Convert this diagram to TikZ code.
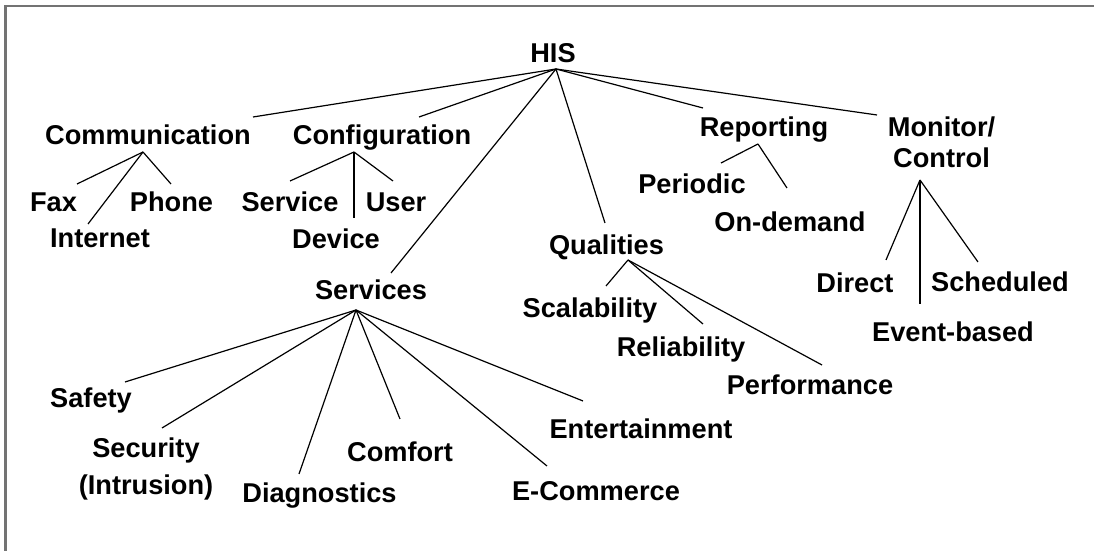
\documentclass[tikz,border=0pt]{standalone}
\usepackage{fontspec}
\setmainfont{Liberation Sans}
\begin{document}
\begin{tikzpicture}[x=0.5bp,y=-0.5bp,
  lbl/.style={anchor=base,inner sep=0pt,font=\bfseries\fontsize{13.6bp}{15.5bp}\selectfont,align=center},
  edge/.style={line width=0.6bp,black},
  frame/.style={line width=1bp,black!55}]
\useasboundingbox (0,0) rectangle (1094,551);
\draw[frame] (5.5,551) -- (5.5,6.5) -- (1094,6.5);
% nodes
\node[lbl] (HIS) at (553,63) {HIS};
\node[lbl] (Com) at (148,145) {Communication};
\node[lbl] (Conf) at (382,145) {Configuration};
\node[lbl] (Rep) at (764,137) {Reporting};
\node[lbl] (Mon) at (941.5,168) {Monitor/\\Control};
\node[lbl] (Fax) at (53.5,212) {Fax};
\node[lbl] (Phone) at (171.5,212) {Phone};
\node[lbl] (Int) at (100,248) {Internet};
\node[lbl] (Serv) at (290,212) {Service};
\node[lbl] (User) at (396,212) {User};
\node[lbl] (Dev) at (336,249) {Device};
\node[lbl] (Per) at (692,194) {Periodic};
\node[lbl] (OnD) at (790,232) {On-demand};
\node[lbl] (Qual) at (606.5,255) {Qualities};
\node[lbl] (Svcs) at (371,300) {Services};
\node[lbl] (Dir) at (855,293) {Direct};
\node[lbl] (Sch) at (1000,292) {Scheduled};
\node[lbl] (Evt) at (953,342) {Event-based};
\node[lbl] (Scal) at (590,318) {Scalability};
\node[lbl] (Rel) at (681,357) {Reliability};
\node[lbl] (Perf) at (810,395) {Performance};
\node[lbl] (Ent) at (641,439) {Entertainment};
\node[lbl] (ECom) at (596,501) {E-Commerce};
\node[lbl] (Saf) at (91,408) {Safety};
\node[lbl,font=\bfseries\fontsize{13.6bp}{18.5bp}\selectfont] (Sec) at (146,495) {Security\\(Intrusion)};
\node[lbl] (Diag) at (319.5,503) {Diagnostics};
\node[lbl] (Comf) at (400,462) {Comfort};
% connector end points
\coordinate (HIS-b) at (556,69);
\coordinate (Com-t) at (253,117);
\coordinate (Conf-t) at (419,117);
\coordinate (Svcs-t) at (391,273);
\coordinate (Qual-t) at (605,223);
\coordinate (Rep-t) at (703,108);
\coordinate (Mon-t) at (877,115);
\coordinate (Com-b) at (143,152);
\coordinate (Fax-t) at (77,184);
\coordinate (Int-t) at (88,224);
\coordinate (Phone-t) at (171,184);
\coordinate (Conf-b) at (354,152);
\coordinate (Serv-t) at (290,181);
\coordinate (Dev-t) at (354,218);
\coordinate (User-t) at (393,181);
\coordinate (Rep-b) at (758,144);
\coordinate (Per-t) at (721,163);
\coordinate (OnD-t) at (787,188);
\coordinate (Mon-b) at (920,180);
\coordinate (Dir-t) at (886,260);
\coordinate (Evt-t) at (920,304);
\coordinate (Sch-t) at (978,262);
\coordinate (Qual-b) at (628,260);
\coordinate (Scal-t) at (606,286);
\coordinate (Rel-t) at (703,324);
\coordinate (Perf-t) at (822,365);
\coordinate (Svcs-b) at (356,310);
\coordinate (Saf-t) at (125,382);
\coordinate (Sec-t) at (162,428);
\coordinate (Diag-t) at (299,474);
\coordinate (Comf-t) at (400,419);
\coordinate (Ent-t) at (583,401);
\coordinate (ECom-t) at (547,466);
% connectors
\foreach \c in {Com,Conf,Svcs,Qual,Rep,Mon} \draw[edge] (HIS-b) -- (\c-t);
\foreach \c in {Fax,Int,Phone} \draw[edge] (Com-b) -- (\c-t);
\foreach \c in {Serv,Dev,User} \draw[edge] (Conf-b) -- (\c-t);
\foreach \c in {Per,OnD} \draw[edge] (Rep-b) -- (\c-t);
\foreach \c in {Dir,Evt,Sch} \draw[edge] (Mon-b) -- (\c-t);
\foreach \c in {Scal,Rel,Perf} \draw[edge] (Qual-b) -- (\c-t);
\foreach \c in {Saf,Sec,Diag,Comf,Ent,ECom} \draw[edge] (Svcs-b) -- (\c-t);
\end{tikzpicture}
\end{document}
